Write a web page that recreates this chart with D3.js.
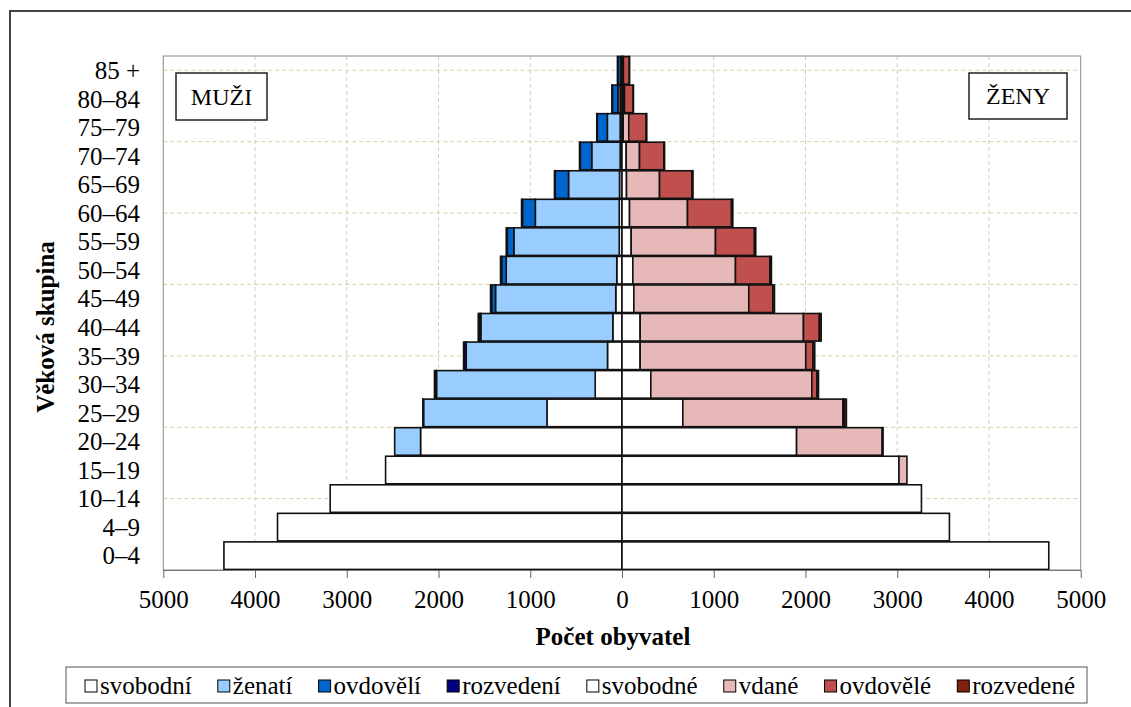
<!DOCTYPE html>
<html>
<head>
<meta charset="utf-8">
<script src="https://cdn.jsdelivr.net/npm/d3@7"></script>
<style>
  body { margin: 0; background: #fff; }
  svg { display: block; }
</style>
</head>
<body>
<svg id="chart" width="1131" height="707"></svg>
<script>
// age groups, top of the pyramid first
const ageGroups = ["85 +", "80–84", "75–79", "70–74", "65–69", "60–64", "55–59", "50–54",
                   "45–49", "40–44", "35–39", "30–34", "25–29", "20–24", "15–19", "10–14", "4–9", "0–4"];

// men by marital status
const menSingle   = [10, 20, 20, 20, 27, 30, 30, 57, 68, 100, 158, 292, 818, 2196, 2577, 3181, 3755, 4339];
const menMarried  = [5, 25, 140, 310, 556, 915, 1149, 1205, 1311, 1439, 1540, 1730, 1346, 282, 0, 0, 0, 0];
const menWidowed  = [30, 60, 110, 125, 145, 140, 71, 50, 42, 12, 8, 5, 1, 0, 0, 0, 0, 0];
const menDivorced = [5, 5, 5, 8, 8, 10, 12, 12, 12, 16, 21, 17, 5, 0, 0, 0, 0, 0];

// women by marital status
const womenSingle   = [10, 12, 13, 46, 49, 82, 100, 118, 129, 198, 198, 314, 663, 1903, 3019, 3264, 3569, 4652];
const womenMarried  = [5, 15, 61, 145, 360, 632, 919, 1119, 1253, 1780, 1805, 1755, 1746, 934, 87, 0, 0, 0];
const womenWidowed  = [65, 95, 190, 265, 355, 480, 425, 375, 262, 173, 78, 55, 15, 3, 0, 0, 0, 0];
const womenDivorced = [2, 3, 6, 8, 10, 14, 14, 17, 18, 20, 20, 18, 22, 5, 0, 0, 0, 0];

const xTicks = [-5000, -4000, -3000, -2000, -1000, 0, 1000, 2000, 3000, 4000, 5000];
const menLabels = ["svobodní", "ženatí", "ovdovělí", "rozvedení"];
const womenLabels = ["svobodné", "vdané", "ovdovělé", "rozvedené"];

const menColors = ["#ffffff", "#99ccff", "#0066cc", "#000080"];
const womenColors = ["#ffffff", "#e6b9b8", "#c0504d", "#80200f"];

const serif = '"Liberation Serif"';
const svg = d3.select("#chart");
const plot = { left: 163.3, right: 1080.7, top: 56, bottom: 570 };

// outer chart frame
svg.append("rect")
  .attr("x", 10).attr("y", 11).attr("width", 1200).attr("height", 800)
  .attr("fill", "none").attr("stroke", "#444").attr("stroke-width", 2);

const x = d3.scaleLinear().domain([-5000, 5000]).range([plot.left, plot.right]);
const y = d3.scaleBand().domain(ageGroups).range([plot.top, plot.bottom])
  .paddingInner(0.035).paddingOuter(0.02);
// horizontal gridlines come from a secondary scale (every 2.5 rows)
const yGrid = d3.scaleLinear().domain([0, 36]).range([plot.bottom, plot.top]);

// gridlines
const grid = svg.append("g").attr("stroke", "#d6d0a6").attr("stroke-dasharray", "4,3").attr("stroke-width", 1);
grid.selectAll("line.v")
  .data(xTicks.filter(d => d !== 0 && Math.abs(d) !== 5000))
  .join("line")
  .attr("x1", d => x(d)).attr("x2", d => x(d))
  .attr("y1", plot.top).attr("y2", plot.bottom);
grid.selectAll("line.h")
  .data(d3.range(5, 36, 5))
  .join("line")
  .attr("x1", plot.left).attr("x2", plot.right)
  .attr("y1", d => yGrid(d)).attr("y2", d => yGrid(d));

// plot area border
svg.append("rect")
  .attr("x", plot.left).attr("y", plot.top)
  .attr("width", plot.right - plot.left).attr("height", plot.bottom - plot.top)
  .attr("fill", "none").attr("stroke", "#8a8a8a").attr("stroke-width", 1);

// build rows for stacking
const keys = ["s", "m", "w", "d"];
const menRows = ageGroups.map((a, i) => ({ age: a, s: menSingle[i], m: menMarried[i], w: menWidowed[i], d: menDivorced[i] }));
const womenRows = ageGroups.map((a, i) => ({ age: a, s: womenSingle[i], m: womenMarried[i], w: womenWidowed[i], d: womenDivorced[i] }));
const menSeries = d3.stack().keys(keys)(menRows);
const womenSeries = d3.stack().keys(keys)(womenRows);

const bars = svg.append("g").attr("stroke", "#111").attr("stroke-width", 1.6);

bars.selectAll("g.men")
  .data(menSeries)
  .join("g")
  .attr("class", "men")
  .attr("fill", (d, i) => menColors[i])
  .selectAll("rect")
  .data(d => d.filter(v => v[1] - v[0] > 0))
  .join("rect")
  .attr("x", d => x(-d[1]))
  .attr("width", d => x(-d[0]) - x(-d[1]))
  .attr("y", d => y(d.data.age))
  .attr("height", y.bandwidth());

bars.selectAll("g.women")
  .data(womenSeries)
  .join("g")
  .attr("class", "women")
  .attr("fill", (d, i) => womenColors[i])
  .selectAll("rect")
  .data(d => d.filter(v => v[1] - v[0] > 0))
  .join("rect")
  .attr("x", d => x(d[0]))
  .attr("width", d => x(d[1]) - x(d[0]))
  .attr("y", d => y(d.data.age))
  .attr("height", y.bandwidth());

// x axis
const xAxis = svg.append("g")
  .attr("transform", `translate(0,${plot.bottom})`)
  .call(d3.axisBottom(x).tickValues(xTicks).tickFormat(d => Math.abs(d))
    .tickSize(8).tickSizeOuter(0).tickPadding(12));
xAxis.select(".domain").attr("stroke", "#777");
xAxis.selectAll(".tick line").attr("stroke", "#666");
xAxis.selectAll(".tick text").attr("font-size", 25).attr("fill", "#000");

// y labels
svg.append("g").selectAll("text")
  .data(ageGroups)
  .join("text")
  .attr("x", 140)
  .attr("y", d => y(d) + y.bandwidth() / 2)
  .attr("dy", "0.35em")
  .attr("text-anchor", "end")
  .attr("font-size", 25)
  .text(d => d);

// axis titles
svg.append("text")
  .attr("x", 613).attr("y", 645)
  .attr("text-anchor", "middle")
  .attr("font-size", 25).attr("font-weight", "bold")
  .text("Počet obyvatel");

svg.append("text")
  .attr("transform", "translate(45,327) rotate(-90)")
  .attr("text-anchor", "middle")
  .attr("dy", "0.35em")
  .attr("font-size", 25).attr("font-weight", "bold")
  .text("Věková skupina");

// MUŽI / ŽENY boxes
function tagBox(x0, y0, w, h, label) {
  svg.append("rect").attr("x", x0).attr("y", y0).attr("width", w).attr("height", h)
    .attr("fill", "#fff").attr("stroke", "#222").attr("stroke-width", 1.5);
  svg.append("text").attr("x", x0 + w / 2).attr("y", y0 + h / 2).attr("dy", "0.35em")
    .attr("text-anchor", "middle").attr("font-size", 24).text(label);
}
tagBox(176, 73, 91, 47, "MUŽI");
tagBox(969, 73, 98, 46, "ŽENY");

// legend
const legendLabels = menLabels.concat(womenLabels);
const legendColors = menColors.concat(womenColors);
svg.append("rect")
  .attr("x", 66).attr("y", 667).attr("width", 1021).attr("height", 36)
  .attr("fill", "#fff").attr("stroke", "#555").attr("stroke-width", 1);

const items = svg.append("g").selectAll("g")
  .data(legendLabels)
  .join("g");
items.append("rect")
  .attr("width", 12).attr("height", 12).attr("y", 680)
  .attr("fill", (d, i) => legendColors[i])
  .attr("stroke", "#000").attr("stroke-width", 1);
items.append("text")
  .attr("x", 15).attr("y", 694)
  .attr("font-size", 25)
  .text(d => d);

// serif font on every text, set inline
svg.selectAll("text").style("font-family", serif);

// spread legend items across the box
const widths = [];
items.each(function () { widths.push(15 + d3.select(this).select("text").node().getComputedTextLength()); });
const startX = 85, endX = 1075;
const gap = (endX - startX - d3.sum(widths)) / (widths.length - 1);
let cx = startX;
items.each(function (d, i) {
  d3.select(this).attr("transform", `translate(${cx},0)`);
  cx += widths[i] + gap;
});
</script>
</body>
</html>
